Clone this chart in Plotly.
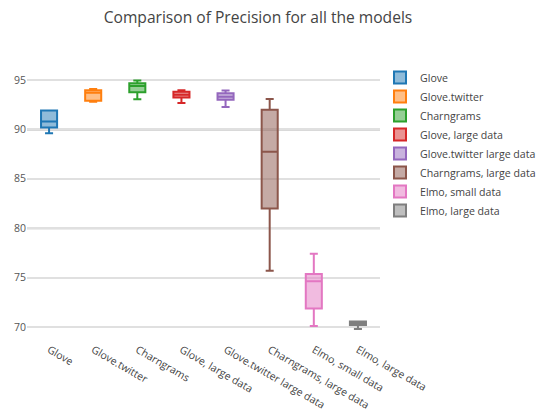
import plotly.graph_objects as go

# Precision summary per model (box statistics)
models = ["Glove", "Glove.twitter", "Charngrams", "Glove, large data",
          "Glove.twitter large data", "Charngrams, large data",
          "Elmo, small data", "Elmo, large data"]
lower_fence = [89.6, 92.8, 93.05, 92.68, 92.27, 75.68, 70.1, 69.8]
q1 = [90.2, 92.9, 93.76, 93.22, 93.0, 81.98, 71.87, 70.2]
median = [90.8, 93.7, 94.4, 93.5, 93.3, 87.74, 74.64, 70.4]
q3 = [91.9, 93.96, 94.67, 93.8, 93.66, 92.0, 75.35, 70.55]
upper_fence = [91.9, 94.1, 94.95, 93.96, 93.93, 93.08, 77.41, 70.55]

colors = ["#1f77b4", "#ff7f0e", "#2ca02c", "#d62728",
          "#9467bd", "#8c564b", "#e377c2", "#7f7f7f"]

# y values whose grid lines are drawn heavier
strong_grid = [70, 80, 90]

fig = go.Figure()
for i, name in enumerate(models):
    fig.add_trace(go.Box(
        name=name,
        x=[name],
        q1=[q1[i]], median=[median[i]], q3=[q3[i]],
        lowerfence=[lower_fence[i]], upperfence=[upper_fence[i]],
        marker_color=colors[i],
        line=dict(width=2),
    ))

for v in strong_grid:
    fig.add_shape(type="line", xref="paper", x0=0, x1=1, yref="y", y0=v, y1=v,
                  line=dict(color="#b4b4b4", width=2), layer="below")

y_range = [69.49, 95.81]

fig.update_layout(
    template="none",
    width=543, height=410,
    font=dict(family="Open Sans, verdana, arial, sans-serif", size=10.5, color="#444"),
    title=dict(text="Comparison of Precision for all the models",
               x=258 / 543, xanchor="center", xref="container",
               y=1 - 18 / 410, yanchor="middle", yref="container",
               font=dict(size=15.6, color="#444")),
    margin=dict(l=27, r=163, t=72, b=78, autoexpand=False),
    paper_bgcolor="white", plot_bgcolor="white",
    boxgap=0.48,
    showlegend=True,
    legend=dict(x=1.0, xanchor="left", y=1.035, yanchor="top",
                font=dict(size=10.6, color="#444"), bgcolor="rgba(0,0,0,0)"),
    xaxis=dict(showgrid=False, zeroline=False, showline=False, ticks="",
               tickangle=30, ticklabelstandoff=9,
               tickfont=dict(size=10.5, color="#444")),
    yaxis=dict(range=y_range, dtick=5, tick0=70, showgrid=True,
               gridcolor="#e0e0e0", gridwidth=1.5, zeroline=False,
               showline=False, ticks="", tickfont=dict(size=10.5, color="#555")),
)

fig.write_html("out.html")
